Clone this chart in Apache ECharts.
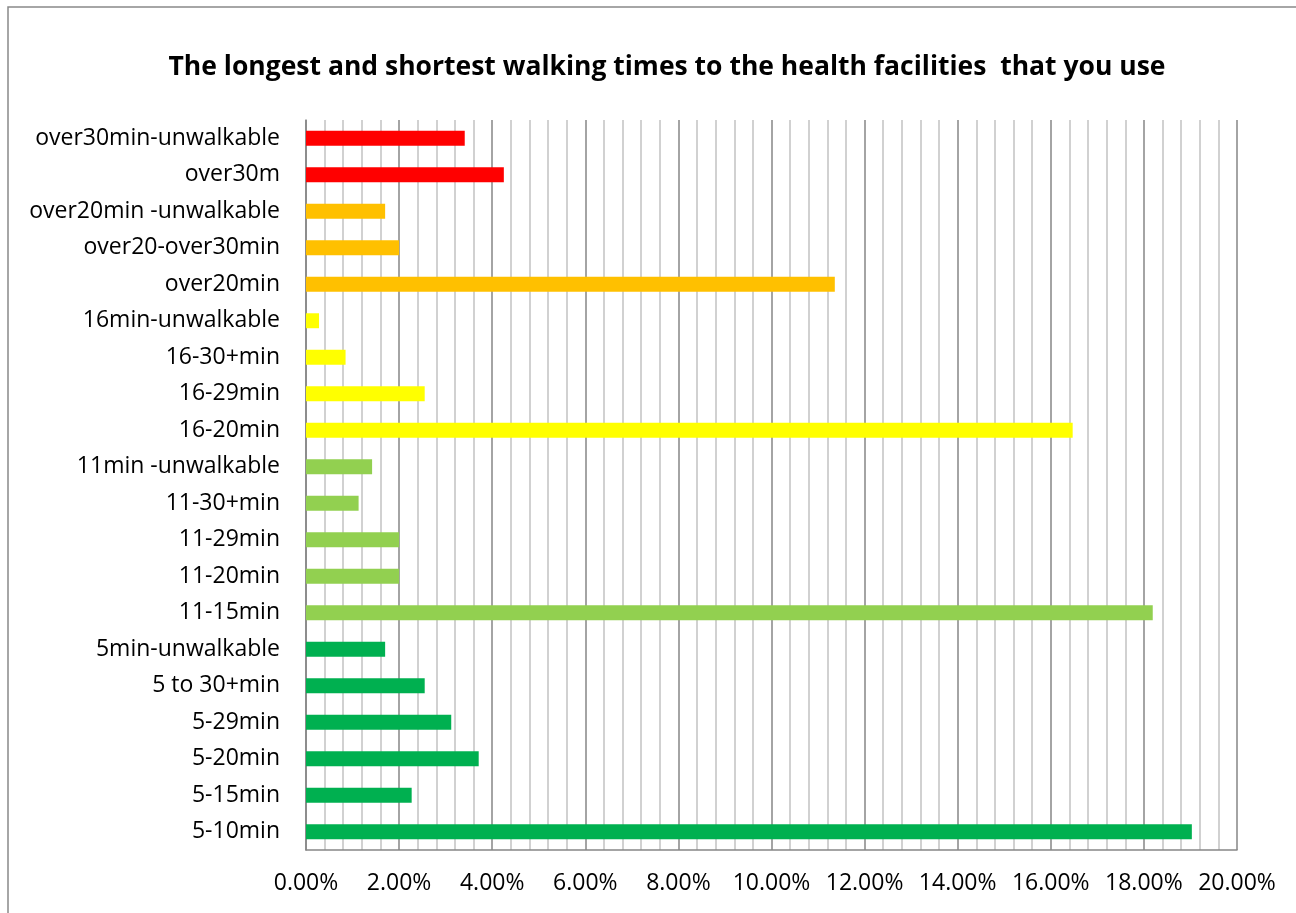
<!DOCTYPE html>
<html>
<head>
<meta charset="utf-8">
<script src="https://cdn.jsdelivr.net/npm/echarts@6/dist/echarts.min.js"></script>
<style>
  html, body { margin: 0; padding: 0; background: #ffffff; }
  #chart { width: 1296px; height: 913px; }
</style>
</head>
<body>
<div id="chart"></div>
<script>
// Walking-time combinations, listed bottom to top as they appear on the axis
const categories = [
  '5-10min', '5-15min', '5-20min', '5-29min', '5 to 30+min', '5min-unwalkable',
  '11-15min', '11-20min', '11-29min', '11-30+min', '11min -unwalkable',
  '16-20min', '16-29min', '16-30+min', '16min-unwalkable',
  'over20min', 'over20-over30min', 'over20min -unwalkable',
  'over30m', 'over30min-unwalkable'
];

// Share of respondents, in percent
const shares = [
  19.03, 2.27, 3.71, 3.12, 2.55, 1.70,
  18.19, 2.00, 2.00, 1.13, 1.42,
  16.47, 2.55, 0.85, 0.28,
  11.36, 2.00, 1.70,
  4.25, 3.41
];

// Shortest-time group each row belongs to
const groups = [
  'g5', 'g5', 'g5', 'g5', 'g5', 'g5',
  'g11', 'g11', 'g11', 'g11', 'g11',
  'g16', 'g16', 'g16', 'g16',
  'g20', 'g20', 'g20',
  'g30', 'g30'
];

const groupColors = {
  g5: '#00B050',
  g11: '#92D050',
  g16: '#FFFF00',
  g20: '#FFC000',
  g30: '#FF0000'
};

const xTicks = { min: 0, max: 20, interval: 2 };

const chart = echarts.init(document.getElementById('chart'), null, { renderer: 'canvas' });

chart.setOption({
  backgroundColor: '#ffffff',
  animation: false,
  title: {
    text: 'The longest and shortest walking times to the health facilities  that you use',
    left: 662,
    top: 49,
    textAlign: 'center',
    textStyle: {
      fontFamily: 'Open Sans',
      fontWeight: 'bold',
      fontSize: 26.5,
      color: '#000000'
    }
  },
  graphic: [{
    type: 'rect',
    shape: { x: 8, y: 7, width: 1400, height: 1000 },
    style: { fill: 'none', stroke: '#898989', lineWidth: 1.5 },
    silent: true,
    z: -1
  }],
  grid: { left: 306, right: 59, top: 120, bottom: 63, containLabel: false },
  xAxis: {
    type: 'value',
    min: xTicks.min,
    max: xTicks.max,
    interval: xTicks.interval,
    axisLine: { show: true, lineStyle: { color: '#868686', width: 1.5 } },
    axisTick: { show: false },
    axisLabel: {
      formatter: v => v.toFixed(2) + '%',
      fontFamily: 'Open Sans',
      fontSize: 23,
      color: '#000000',
      margin: 22
    },
    splitLine: { show: true, lineStyle: { color: '#868686', width: 1.5 } },
    minorTick: { show: false, splitNumber: 5 },
    minorSplitLine: { show: true, lineStyle: { color: '#C2C2C2', width: 1.5 } }
  },
  yAxis: {
    type: 'category',
    data: categories,
    axisLine: { show: true, lineStyle: { color: '#868686', width: 1.5 } },
    axisTick: { show: false },
    axisLabel: {
      fontFamily: 'Open Sans',
      fontSize: 23,
      color: '#000000',
      margin: 26
    },
    splitLine: { show: false }
  },
  series: [{
    type: 'bar',
    barCategoryGap: '59%',
    data: shares.map((v, i) => ({
      value: v,
      itemStyle: { color: groupColors[groups[i]] }
    }))
  }]
});
</script>
</body>
</html>
